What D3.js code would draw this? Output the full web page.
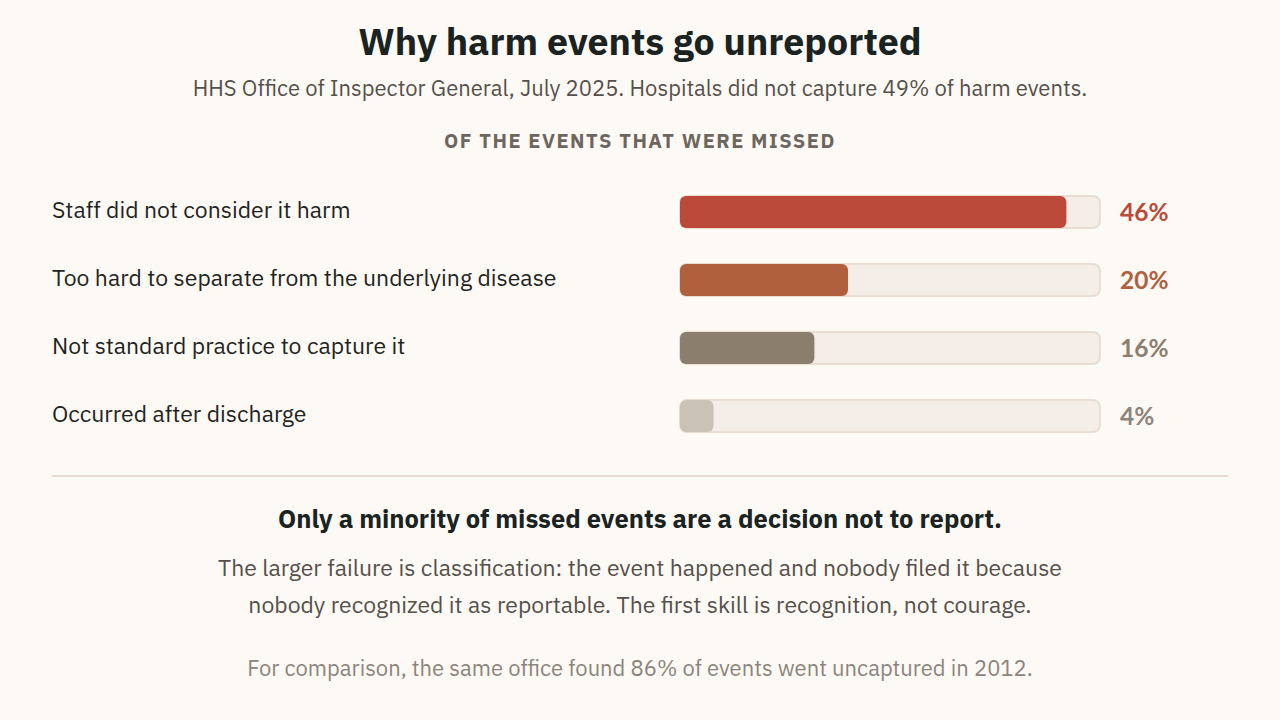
<!DOCTYPE html>
<html>
<head>
<meta charset="utf-8">
<script src="https://cdn.jsdelivr.net/npm/d3@7"></script>
<style>
  html, body { margin: 0; padding: 0; background: #fdf9f5; }
  svg { display: block; }
</style>
</head>
<body>
<svg id="chart" width="1280" height="720"></svg>
<script>
// Data
const reasons = [
  "Staff did not consider it harm",
  "Too hard to separate from the underlying disease",
  "Not standard practice to capture it",
  "Occurred after discharge"
];
const shares = [46, 20, 16, 4];
const barColors = ["#bc4a3a", "#b0603c", "#8c7e6d", "#cbc2b6"];
const labelColors = ["#bc4a3a", "#b0603c", "#8c7e6d", "#8c847c"];

const svg = d3.select("#chart");
const width = +svg.attr("width");
const font = "'IBM Plex Sans', 'Noto Sans', sans-serif";

svg.append("rect").attr("width", width).attr("height", 720).attr("fill", "#fdf9f5");

// TITLE
svg.append("text")
  .attr("x", width / 2).attr("y", 55)
  .attr("text-anchor", "middle")
  .style("font-family", font).style("font-size", "37.5px").style("font-weight", "bold")
  .attr("fill", "#1a2321")
  .text("Why harm events go unreported");

svg.append("text")
  .attr("x", width / 2).attr("y", 96)
  .attr("text-anchor", "middle")
  .style("font-family", font).style("font-size", "22px")
  .attr("fill", "#55504b")
  .text("HHS Office of Inspector General, July 2025. Hospitals did not capture 49% of harm events.");

svg.append("text")
  .attr("x", width / 2).attr("y", 148)
  .attr("text-anchor", "middle")
  .style("font-family", font).style("font-size", "20px").style("font-weight", "bold")
  .style("letter-spacing", "1.5px")
  .attr("fill", "#6d665f")
  .text("OF THE EVENTS THAT WERE MISSED");

// BARS
const x = d3.scaleLinear().domain([0, 50]).range([680, 1100]);
const y = d3.scaleBand().domain(reasons).range([196, 432]).paddingInner(0.53).paddingOuter(0);

const rows = svg.selectAll(".row")
  .data(reasons)
  .enter()
  .append("g")
  .attr("class", "row");

rows.append("text")
  .attr("x", 52)
  .attr("y", d => y(d) + y.bandwidth() / 2 + 6)
  .style("font-family", font).style("font-size", "23px")
  .attr("fill", "#1f2422")
  .text(d => d);

// track
rows.append("rect")
  .attr("x", x(0))
  .attr("y", d => y(d))
  .attr("width", x(50) - x(0))
  .attr("height", y.bandwidth())
  .attr("rx", 7)
  .attr("fill", "#f5eee8")
  .attr("stroke", "#e8ddd0")
  .attr("stroke-width", 2);

// value bar
rows.append("rect")
  .attr("x", x(0))
  .attr("y", d => y(d))
  .attr("width", (d, i) => x(shares[i]) - x(0))
  .attr("height", y.bandwidth())
  .attr("rx", 6)
  .attr("fill", (d, i) => barColors[i]);

rows.append("text")
  .attr("x", 1120)
  .attr("y", d => y(d) + y.bandwidth() / 2 + 9)
  .style("font-family", "Lato, sans-serif").style("font-size", "24.5px").style("font-weight", "bold")
  .attr("fill", (d, i) => labelColors[i])
  .text((d, i) => shares[i] + "%");

// DIVIDER
svg.append("line")
  .attr("x1", 52).attr("x2", 1228)
  .attr("y1", 476).attr("y2", 476)
  .attr("stroke", "#e6ddd2").attr("stroke-width", 2);

// TAKEAWAY
svg.append("text")
  .attr("x", width / 2).attr("y", 528)
  .attr("text-anchor", "middle")
  .style("font-family", font).style("font-size", "25.5px").style("font-weight", "bold")
  .attr("fill", "#1a2321")
  .text("Only a minority of missed events are a decision not to report.");

const body = [
  "The larger failure is classification: the event happened and nobody filed it because",
  "nobody recognized it as reportable. The first skill is recognition, not courage."
];
svg.selectAll(".body")
  .data(body)
  .enter()
  .append("text")
  .attr("x", width / 2)
  .attr("y", (d, i) => 576 + i * 36.5)
  .attr("text-anchor", "middle")
  .style("font-family", font).style("font-size", "23px")
  .attr("fill", "#55504b")
  .text(d => d);

svg.append("text")
  .attr("x", width / 2).attr("y", 676)
  .attr("text-anchor", "middle")
  .style("font-family", font).style("font-size", "22px")
  .attr("fill", "#8c847c")
  .text("For comparison, the same office found 86% of events went uncaptured in 2012.");
</script>
</body>
</html>
